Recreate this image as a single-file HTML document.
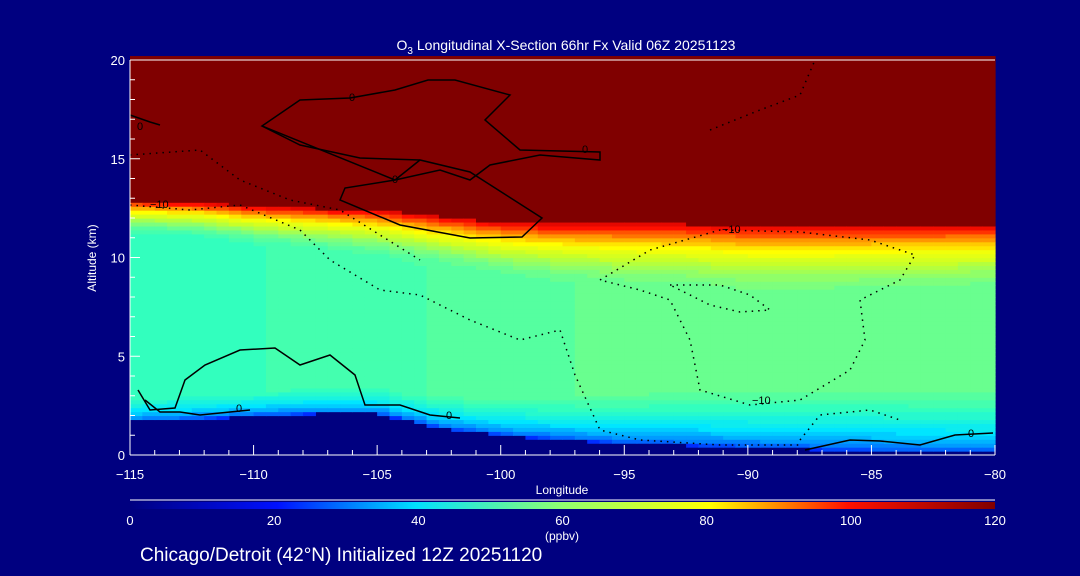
<!DOCTYPE html>
<html><head><meta charset="utf-8"><style>
html,body{margin:0;padding:0;background:#000080;}
svg{display:block;font-family:"Liberation Sans",sans-serif;}
</style></head><body>
<svg id="c" width="1080" height="576" viewBox="0 0 1080 576">
<rect x="0" y="0" width="1080" height="576" fill="#000080"/>
<g id="field"></g>
<g id="contours" fill="none" stroke="#000" stroke-width="1.5">
<path d="M262,126 L300,100 L350,98 L395,90 L428,80 L455,80 L510,95 L485,120 L520,150 L600,152 L600,160 L540,155 L490,165 L470,180 L440,170 L395,180 L345,188 L340,200 L400,225 L470,238 L522,237 L542,218 L470,172 L420,160 L395,180 Z"/>
<path d="M262,126 L300,145 L360,158 L420,160"/>
<path d="M130,115 L150,122 L160,125"/>
<path d="M138,390 L150,410 L175,408 L185,380 L205,365 L240,350 L275,348 L300,365 L330,355 L355,375 L365,405 L400,405 L430,415 L460,418"/>
<path d="M145,400 L160,412 L180,412 L200,415 L230,412 L250,410"/>
<path d="M805,450 L850,440 L880,441 L920,445 L955,435 L993,433"/>
<g stroke-dasharray="1.5 5">
<path d="M130,155 L200,150 L240,180 L290,200 L340,210 L380,235 L420,260"/>
<path d="M130,205 L190,210 L240,205 L300,230 L330,260 L380,290 L420,295 L470,320 L520,340 L560,330 L575,375 L600,430 L640,440 L720,445 L800,445"/>
<path d="M600,280 L650,250 L720,230 L800,232 L870,240 L915,255 L900,280 L860,300 L865,340 L850,370 L800,400 L750,405 L700,390 L690,340 L670,300 L640,290 L600,280"/>
<path d="M670,285 L720,285 L750,295 L770,310 L740,312 L710,305 Z"/>
<path d="M800,440 L820,415 L870,410 L900,420"/>
<path d="M710,130 L760,110 L800,95 L815,60"/>
</g>
</g>
<g font-size="11" fill="#000">
<text x="349" y="101">0</text><text x="582" y="153">0</text><text x="392" y="183">0</text><text x="137" y="130">0</text>
<text x="236" y="412">0</text><text x="446" y="419">0</text><text x="968" y="437">0</text>
<text x="150" y="208">−10</text><text x="722" y="233">−10</text><text x="752" y="404">−10</text>
</g>
<g id="axes"></g>
<text x="566" y="50" fill="#fff" font-size="14" text-anchor="middle">O<tspan font-size="10" dy="4">3</tspan><tspan dy="-4"> Longitudinal X-Section 66hr  Fx Valid 06Z 20251123</tspan></text>
<text x="562" y="494" fill="#fff" font-size="12" text-anchor="middle">Longitude</text>
<text x="96" y="258" fill="#fff" font-size="12" text-anchor="middle" transform="rotate(-90 96 258)">Altitude (km)</text>
<line x1="130" y1="500" x2="995" y2="500" stroke="#fff"/>
<defs><linearGradient id="cb" x1="0" x2="1" y1="0" y2="0">
<stop offset="0" stop-color="#000080"/><stop offset="0.17" stop-color="#0010ff"/><stop offset="0.33" stop-color="#00e0ff"/><stop offset="0.5" stop-color="#90ff70"/><stop offset="0.67" stop-color="#ffff00"/><stop offset="0.83" stop-color="#ff1000"/><stop offset="1" stop-color="#800000"/></linearGradient></defs>
<rect x="130" y="502" width="865" height="7" fill="url(#cb)"/>
<g id="cblabels" fill="#fff" font-size="13" text-anchor="middle"></g>
<text x="562" y="540" fill="#fff" font-size="12" text-anchor="middle">(ppbv)</text>
<text x="140" y="561" fill="#fff" font-size="19">Chicago/Detroit (42°N) Initialized 12Z 20251120</text>
</svg>
<script>
var lons=[-115,-112.5,-110,-107.5,-105,-102.5,-100,-97.5,-95,-92.5,-90,-87.5,-85,-82.5,-80];
var groundKm=[1.7,1.8,2.0,2.1,2.1,1.4,1.0,0.8,0.6,0.5,0.4,0.3,0.2,0.15,0.1];
var tropKm=[12.9,12.8,12.6,12.5,12.4,12.1,11.8,11.7,11.7,11.7,11.6,11.6,11.6,11.6,11.6];
var midO3=[50,50,51,52,53,54,55,56,57,57,58,58,58,58,58];
var upperDepth=[1.8,1.8,2.0,2.2,2.4,2.6,2.8,3.0,3.2,3.3,3.4,3.4,3.3,3.2,3.1];
var boundaryDepth=[1.2,1.2,1.2,1.3,1.4,1.6,1.9,2.2,2.5,2.8,3.0,3.2,3.3,3.3,3.3];
var xTicks=[-115,-110,-105,-100,-95,-90,-85,-80];
var yTicks=[0,5,10,15,20];
var cbTicks=[0,20,40,60,80,100,120];
var X0=130,X1=995,Y0=455,Y1=60;
function xs(l){return X0+(l+115)/35*(X1-X0);}
function ys(h){return Y0-h/20*(Y0-Y1);}
function interp(arr,l){var i=Math.min(lons.length-2,Math.max(0,Math.floor((l+115)/2.5)));var t=(l-lons[i])/2.5;return arr[i]+(arr[i+1]-arr[i])*t;}
var cmap=[[0,[0,0,128]],[20,[0,16,255]],[30,[0,130,255]],[40,[0,230,255]],[50,[50,255,190]],[55,[85,255,160]],[60,[125,255,125]],[70,[200,255,40]],[80,[255,255,0]],[90,[255,150,0]],[100,[255,16,0]],[110,[200,0,0]],[120,[128,0,0]]];
function col(v){v=Math.max(0,Math.min(120,Math.round(v/2.5)*2.5));for(var i=0;i<cmap.length-1;i++){if(v<=cmap[i+1][0]){var t=(v-cmap[i][0])/(cmap[i+1][0]-cmap[i][0]);var a=cmap[i][1],b=cmap[i+1][1];return 'rgb('+[0,1,2].map(function(k){return Math.round(a[k]+(b[k]-a[k])*t);}).join(',')+')';}}return 'rgb(128,0,0)';}
var NS="http://www.w3.org/2000/svg";
var field=document.getElementById('field');
var dl=0.5,dh=0.2;
for(var l=-115;l<-80;l+=dl){
 var lc=l+dl/2,g=interp(groundKm,lc),tp=interp(tropKm,lc),m=interp(midO3,lc),ud=interp(upperDepth,lc),bd=interp(boundaryDepth,lc);
 for(var h=0;h<20;h+=dh){
  var hc=h+dh/2,v;
  if(hc<g)continue;
  if(hc>=tp)v=120;
  else if(hc<g+bd)v=22+(m-22)*Math.pow((hc-g)/bd,0.6);
  else if(hc>tp-ud)v=m+(105-m)*Math.pow((hc-(tp-ud))/ud,1.6);
  else v=m;
  var r=document.createElementNS(NS,'rect');
  r.setAttribute('x',xs(l).toFixed(2));r.setAttribute('y',ys(h+dh).toFixed(2));
  r.setAttribute('width',(xs(l+dl)-xs(l)+0.6).toFixed(2));r.setAttribute('height',(ys(h)-ys(h+dh)+0.6).toFixed(2));
  r.setAttribute('fill',col(v));
  
  
  field.appendChild(r);
 }
}
var ax=document.getElementById('axes');
function ln(x1,y1,x2,y2,n){var e=document.createElementNS(NS,'line');e.setAttribute('x1',x1);e.setAttribute('y1',y1);e.setAttribute('x2',x2);e.setAttribute('y2',y2);e.setAttribute('stroke','#fff');


ax.appendChild(e);}
function tx(x,y,s,anchor,n,p){var e=document.createElementNS(NS,'text');e.setAttribute('x',x);e.setAttribute('y',y);e.setAttribute('fill','#fff');e.setAttribute('font-size','13');e.setAttribute('text-anchor',anchor);e.textContent=s;


(p||ax).appendChild(e);}
ln(X0,Y0,X1,Y0,'x-axis');ln(X0,Y1,X1,Y1,'top-axis');ln(X0,Y0,X0,Y1,'y-axis');
for(var d=-115;d<=-80;d++){var big=(d%5===0);ln(xs(d),Y0,xs(d),Y0-(big?10:5),'x-tick');}
for(var k=0;k<=20;k++){var bg=(k%5===0);ln(X0,ys(k),X0+(bg?10:5),ys(k),'y-tick');}
xTicks.forEach(function(v){tx(xs(v),479,String(v).replace('-','\u2212'),'middle','x-tick-label');});
yTicks.forEach(function(v){tx(X0-5,ys(v)+5,String(v),'end','y-tick-label');});
var cbl=document.getElementById('cblabels');
cbTicks.forEach(function(v){tx(X0+v/120*(X1-X0),525,String(v),'middle','colorbar-tick-label',cbl);});
</script>
</body></html>
